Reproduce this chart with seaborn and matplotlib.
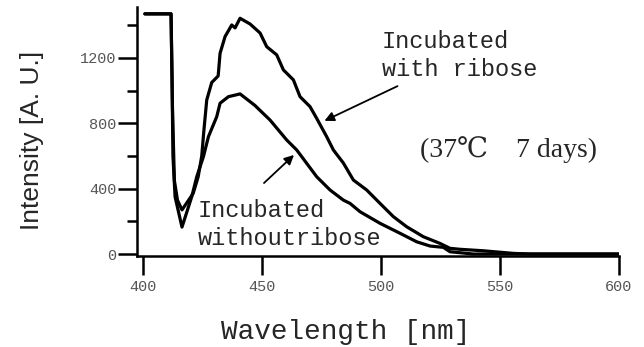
import numpy as np
import pandas as pd
import matplotlib
matplotlib.use("Agg")
import matplotlib.pyplot as plt
import seaborn as sns

# Wavelength (nm) / intensity (A.U.)
wl_ribose = [400.8, 411.8, 412.4, 413.2, 414.5, 416.4, 421.1, 423.2, 424.7, 425.5,
             426.8, 428.9, 431.6, 432.4, 434.5, 437.3, 438.7, 440.8, 445.0, 449.2,
             452.0, 456.2, 459.0, 463.2, 466.0, 470.2, 473.0, 477.2, 480.0, 484.2,
             488.4, 494.0, 499.6, 505.2, 510.8, 517.8, 524.8, 529.0, 533.2, 543.0,
             555.6, 562.6, 600.0]
int_ribose = [1470, 1470, 900, 450, 330, 270, 371, 473, 600, 740,
              943, 1050, 1090, 1229, 1331, 1402, 1384, 1443, 1408, 1353,
              1269, 1219, 1127, 1066, 963, 902, 830, 718, 637, 557,
              453, 392, 310, 229, 167, 106, 65, 35, 29, 20,
              4, 0, 0]

wl_without = [400.8, 411.8, 412.2, 412.6, 413.5, 416.4, 420.5, 422.6, 425.4, 427.5,
              431.0, 432.4, 435.9, 440.8, 447.0, 453.4, 460.4, 464.6, 468.8, 473.0,
              478.6, 484.2, 487.0, 491.2, 499.6, 508.0, 515.0, 520.6, 526.2, 529.0,
              538.8, 600.0]
int_without = [1470, 1470, 1100, 600, 350, 165, 351, 473, 596, 718,
               841, 923, 963, 980, 910, 820, 698, 637, 555, 473,
               392, 330, 310, 259, 188, 127, 75, 49, 41, 14,
               0, 0]

y_major = [0, 400, 800, 1200]
y_minor = [200, 600, 1000, 1400]
x_major = [400, 450, 500, 550, 600]

sns.set_theme(style="white")
plt.rcParams['font.family'] = ['Liberation Mono', 'DejaVu Sans']

df = pd.concat([
    pd.DataFrame({'wl': wl_ribose, 'val': int_ribose, 's': 'ribose'}),
    pd.DataFrame({'wl': wl_without, 'val': int_without, 's': 'without'}),
])

fig = plt.figure(figsize=(6.44, 3.47), dpi=100)
ax = fig.add_axes([137 / 644, 1 - 256 / 347, 482 / 644, 249 / 347])

sns.lineplot(data=df, x='wl', y='val', units='s', estimator=None, sort=False,
             color='black', linewidth=2.3, ax=ax, legend=False)

ax.set_xlim(397.5, 600)
ax.set_ylim(-12, 1512)
ax.set_xlabel('')
ax.set_ylabel('')

for side in ['top', 'right']:
    ax.spines[side].set_visible(False)
for side in ['left', 'bottom']:
    ax.spines[side].set_color('black')
    ax.spines[side].set_linewidth(1.8)

ax.set_yticks(y_major)
ax.set_yticks(y_minor, minor=True)
ax.set_xticks(x_major)
ax.tick_params(axis='y', which='major', direction='out', length=14, width=1.8,
               color='black', pad=1, labelsize=11, labelcolor='#555555', left=True)
ax.tick_params(axis='y', which='minor', direction='out', length=7, width=1.8,
               color='black', left=True)
ax.tick_params(axis='x', which='major', direction='out', length=14, width=1.8,
               color='black', pad=3, labelsize=11, labelcolor='#555555', bottom=True)

# annotations
ax.text(500.4, 1298, 'Incubated', ha='left', va='center', fontsize=17)
ax.text(500.4, 1127, 'with ribose', ha='left', va='center', fontsize=17)
ax.annotate('', xy=(475.2, 808), xytext=(508, 1035),
            arrowprops=dict(arrowstyle='-|>', color='black', lw=1.3, mutation_scale=14))

ax.text(423.1, 269, 'Incubated', ha='left', va='center', fontsize=17)
ax.text(423.1, 98, 'withoutribose', ha='left', va='center', fontsize=17)
ax.annotate('', xy=(464.3, 618), xytext=(450, 423),
            arrowprops=dict(arrowstyle='-|>', color='black', lw=1.3, mutation_scale=14))

ax.text(516.4, 637, '(37℃    7 days)', ha='left', va='center', fontsize=20,
        family=['Liberation Serif', 'DejaVu Serif'])

fig.text(346 / 644, 1 - 332 / 347, 'Wavelength [nm]', ha='center', va='center',
         fontsize=20)
fig.text(32 / 644, 1 - 140 / 347, 'Intensity [A. U.]', ha='center', va='center',
         rotation=90, fontsize=19, family=['Liberation Sans Narrow', 'Liberation Sans', 'DejaVu Sans'])

fig.savefig('out.png', dpi=100)
